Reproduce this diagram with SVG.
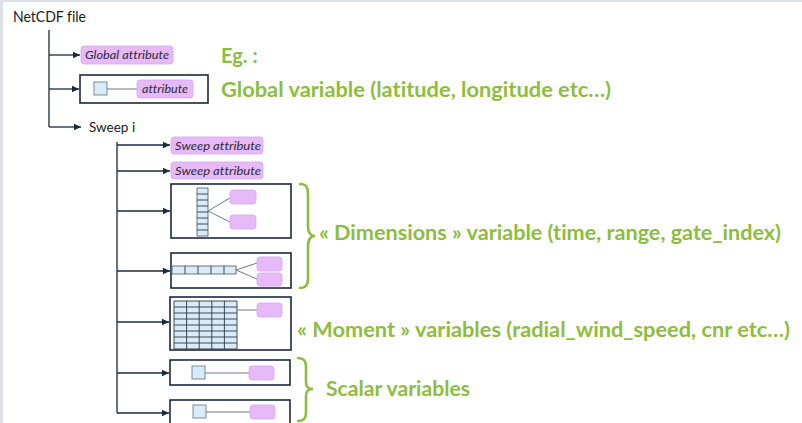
<svg xmlns="http://www.w3.org/2000/svg" width="802" height="423" viewBox="0 0 802 423">
<defs>
<marker id="ah" markerWidth="8" markerHeight="8" refX="7" refY="4" orient="auto" markerUnits="userSpaceOnUse">
<path d="M0,0.8 L7,4 L0,7.2 Z" fill="#1b2a3c"/>
</marker>
<style>
.ln{stroke:#1b2a3c;stroke-width:1.3;fill:none}
.arr{stroke:#1b2a3c;stroke-width:1.3;fill:none;marker-end:url(#ah)}
.box{fill:#fff;stroke:#1b2a3c;stroke-width:1.6}
.pill{fill:#e6baf8;stroke:#d7a8ec;stroke-width:0.8}
.sq{fill:#d8ebf7;stroke:#7d8996;stroke-width:1}
.thin{stroke:#6f7a86;stroke-width:1;fill:none}
.grid{stroke:#2e3947;stroke-width:0.9;fill:none}
text{font-variant-ligatures:none}
.lbl{font-family:Lato,"Liberation Sans",Arial,sans-serif;font-size:14.5px;fill:#1a1a1a}
.it{font-family:Lato,"Liberation Sans",sans-serif;font-style:italic;font-size:11.5px;fill:#2a2a38}
.g{font-family:Lato,"Liberation Sans",sans-serif;font-weight:bold;font-size:20px;fill:#8dbd3e}
.br{stroke:#8dbd3e;stroke-width:2.6;fill:none;stroke-linecap:round}
</style>
</defs>
<rect width="802" height="423" fill="#fff"/>
<rect x="0" y="0" width="802" height="2" fill="#dde1e6"/>
<rect x="0" y="0" width="3" height="423" fill="#dde1e6"/>

<g id="connectors">
<path class="ln" d="M49,30 V127"/>
<path class="arr" d="M49,55 H80"/>
<path class="arr" d="M49,89 H79"/>
<path class="arr" d="M49,127 H81"/>
<path class="ln" d="M117,142 V413"/>
<path class="arr" d="M117,145 H170"/>
<path class="arr" d="M117,171 H170"/>
<path class="arr" d="M117,211 H170"/>
<path class="arr" d="M117,271 H170"/>
<path class="arr" d="M117,322 H169"/>
<path class="arr" d="M117,373 H169"/>
<path class="arr" d="M117,413 H169"/>
</g>

<g id="netcdf-file"><text class="lbl" x="13" y="22" textLength="73" lengthAdjust="spacingAndGlyphs">NetCDF file</text></g>

<g id="global-attribute">
<rect class="pill" x="81" y="46" width="92" height="18" rx="3"/>
<text class="it" x="85" y="59" textLength="84" lengthAdjust="spacingAndGlyphs">Global attribute</text>
</g>

<g id="global-variable">
<rect class="box" x="80" y="75" width="128" height="28"/>
<rect class="sq" x="94" y="82" width="13" height="13"/>
<path class="thin" d="M107,89 H137"/>
<rect class="pill" x="137" y="80" width="56" height="18" rx="3"/>
<text class="it" x="142" y="93" textLength="46" lengthAdjust="spacingAndGlyphs">attribute</text>
</g>

<g id="sweep-i"><text class="lbl" x="89" y="132" style="font-size:13.5px">Sweep i</text></g>

<g id="sweep-attribute-1">
<rect class="pill" x="171" y="137" width="92" height="17" rx="3"/>
<text class="it" x="175" y="150" textLength="86" lengthAdjust="spacingAndGlyphs">Sweep attribute</text>
</g>
<g id="sweep-attribute-2">
<rect class="pill" x="171" y="162" width="92" height="17" rx="3"/>
<text class="it" x="175" y="175" textLength="86" lengthAdjust="spacingAndGlyphs">Sweep attribute</text>
</g>

<g id="dim-vertical">
<rect class="box" x="171" y="184" width="120" height="54"/>
<rect x="197" y="188" width="11" height="48" fill="#d8ebf7" stroke="#5b6673" stroke-width="0.9"/>
<path class="grid" d="M197,194 H208 M197,200 H208 M197,206 H208 M197,212 H208 M197,218 H208 M197,224 H208 M197,230 H208"/>
<path class="thin" d="M208,211 L230,198 M208,211 L230,222"/>
<rect class="pill" x="230" y="190" width="26" height="14" rx="3"/>
<rect class="pill" x="230" y="215" width="26" height="14" rx="3"/>
</g>

<g id="dim-horizontal">
<rect class="box" x="171" y="253" width="120" height="35"/>
<rect x="172" y="266" width="64" height="8" fill="#d8ebf7" stroke="#5b6673" stroke-width="0.9"/>
<path class="grid" d="M185,266 V274 M198,266 V274 M211,266 V274 M224,266 V274"/>
<path class="thin" d="M236,270 L257,263 M236,270 L257,279"/>
<rect class="pill" x="257" y="257" width="25" height="14" rx="3"/>
<rect class="pill" x="257" y="273" width="25" height="13" rx="3"/>
</g>

<g id="moment-variable">
<rect class="box" x="170" y="297" width="121" height="53"/>
<rect x="174" y="301" width="63" height="48" fill="#d8ebf7"/>
<path class="grid" d="M174,301 H237 M174,307 H237 M174,313 H237 M174,319 H237 M174,325 H237 M174,331 H237 M174,337 H237 M174,343 H237 M174,349 H237 M174,301 V349 M186.6,301 V349 M199.2,301 V349 M211.8,301 V349 M224.4,301 V349 M237,301 V349"/>
<path class="thin" d="M237,310 H257"/>
<rect class="pill" x="257" y="303" width="25" height="14" rx="3"/>
</g>

<g id="scalar-1">
<rect class="box" x="170" y="360" width="120" height="25"/>
<rect class="sq" x="192" y="366" width="13" height="13"/>
<path class="thin" d="M205,373 H249"/>
<rect class="pill" x="249" y="366" width="25" height="14" rx="3"/>
</g>

<g id="scalar-2">
<rect class="box" x="170" y="400" width="120" height="30"/>
<rect class="sq" x="193" y="405" width="13" height="13"/>
<path class="thin" d="M206,412 H250"/>
<rect class="pill" x="250" y="405" width="25" height="14" rx="3"/>
</g>

<g id="annotations">
<text class="g" x="221" y="63">Eg. :</text>
<text class="g" x="221" y="97" textLength="390" lengthAdjust="spacingAndGlyphs">Global variable (latitude, longitude etc…)</text>
<path class="br" d="M300,184 C307,184 308,188 308,196 L308,226 C308,233 310,236 315,236 C310,236 308,240 308,247 L308,278 C308,285 306,288 300,288"/>
<text class="g" x="319" y="240" textLength="462" lengthAdjust="spacingAndGlyphs">« Dimensions » variable (time, range, gate_index)</text>
<text class="g" x="297" y="337" textLength="493" lengthAdjust="spacingAndGlyphs">« Moment » variables (radial_wind_speed, cnr etc…)</text>
<path class="br" d="M298,358 C304,358 306,361 306,367 L306,382 C306,387 308,389 313,389 C308,389 306,391 306,396 L306,412 C306,418 304,421 298,421"/>
<text class="g" x="326" y="396" textLength="144" lengthAdjust="spacingAndGlyphs">Scalar variables</text>
</g>
</svg>
